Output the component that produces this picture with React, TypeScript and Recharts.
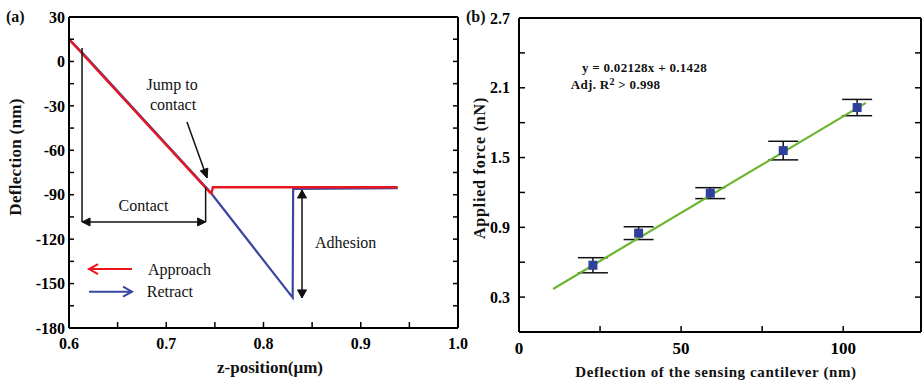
import React from 'react';
import {
  ComposedChart,
  Line,
  XAxis,
  YAxis,
  Scatter,
  ErrorBar,
  ReferenceLine,
  ReferenceDot,
} from 'recharts';

// ---------- Panel (a) data ----------
const approachZ = [0.6, 0.745, 0.7465, 0.748, 0.938];
const approachD = [15, -88.5, -89, -85, -85];
const retractZ = [0.6, 0.615, 0.745, 0.83, 0.8305, 0.938];
const retractD = [15, 5, -88, -159.5, -86, -85.5];

const aXTicks = [0.6, 0.65, 0.7, 0.75, 0.8, 0.85, 0.9, 0.95, 1.0];
const aXLabels = [0.6, 0.7, 0.8, 0.9, 1.0];
const aYTicks = [30, 15, 0, -15, -30, -45, -60, -75, -90, -105, -120, -135, -150, -165, -180];
const aYLabels = [30, 0, -30, -60, -90, -120, -150, -180];

// ---------- Panel (b) data ----------
const deflection = [22.8, 36.9, 59.0, 81.5, 104.3];
const force = [0.574, 0.85, 1.194, 1.56, 1.93];
const forceErr = [0.065, 0.055, 0.047, 0.08, 0.07];
const fitX = [10.5, 107];
const fitY = [0.37, 1.97];

const bXTicks = [0, 25, 50, 75, 100];
const bXLabels = [0, 50, 100];
const bYTicks = [0.3, 0.6, 0.9, 1.2, 1.5, 1.8, 2.1, 2.4, 2.7];
const bYLabels = [0.3, 0.9, 1.5, 2.1, 2.7];

const approachData = approachZ.map((z, i) => ({ z, d: approachD[i] }));
const retractData = retractZ.map((z, i) => ({ z, d: retractD[i] }));
const pointData = deflection.map((x, i) => ({ x, y: force[i], err: forceErr[i] }));
const fitData = fitX.map((x, i) => ({ x, y: fitY[i] }));

const serif = "'Liberation Serif', 'Times New Roman', serif";
const RED = '#e8161f';
const BLUE = '#3a47a0';
const GREEN = '#6cb52f';
const SQUARE = '#2f3f9c';

const tickStyle = { fill: '#000', fontSize: 16, fontWeight: 700, fontFamily: serif };
const tickStyleBX = { fill: '#000', fontSize: 17, fontWeight: 700, fontFamily: serif };
const axisLine = { stroke: '#000', strokeWidth: 2 };
const tickLine = { stroke: '#000', strokeWidth: 1.5 };

const near = (list: number[], v: number) => list.some((l) => Math.abs(l - v) < 1e-6);

// Arrow drawing shape for ReferenceLine segments
const arrowShape =
  (start: boolean, end: boolean, color: string, open: boolean, len = 8, half = 4, width = 1.5) =>
  (props: any) => {
    const { x1, y1, x2, y2 } = props;
    if (x1 == null) return null;
    const dx = x2 - x1;
    const dy = y2 - y1;
    const L = Math.sqrt(dx * dx + dy * dy) || 1;
    const ux = dx / L;
    const uy = dy / L;
    const px = -uy;
    const py = ux;
    const head = (tx: number, ty: number, dir: number, key: string) => {
      const bx = tx - dir * ux * len;
      const by = ty - dir * uy * len;
      const a = `${bx + px * half},${by + py * half}`;
      const b = `${bx - px * half},${by - py * half}`;
      if (open) {
        return (
          <polyline
            key={key}
            points={`${a} ${tx},${ty} ${b}`}
            fill="none"
            stroke={color}
            strokeWidth={width}
          />
        );
      }
      return <polygon key={key} points={`${a} ${tx},${ty} ${b}`} fill={color} stroke={color} />;
    };
    return (
      <g>
        <line x1={x1} y1={y1} x2={x2} y2={y2} stroke={color} strokeWidth={width} />
        {start ? head(x1, y1, -1, 's') : null}
        {end ? head(x2, y2, 1, 'e') : null}
      </g>
    );
  };

const textShape =
  (label: string, anchor: 'start' | 'middle' | 'end', size = 16) =>
  (props: any) => {
    const { cx, cy } = props;
    if (cx == null) return null;
    return (
      <text x={cx} y={cy} textAnchor={anchor} fontFamily={serif} fontSize={size} fill="#111">
        {label}
      </text>
    );
  };

const squareShape = (props: any) => {
  const { cx, cy } = props;
  if (cx == null) return null;
  return <rect x={cx - 4.5} y={cy - 4.5} width={9} height={9} fill={SQUARE} />;
};

const eqShape = (props: any) => {
  const { cx, cy } = props;
  if (cx == null) return null;
  return (
    <text x={cx} y={cy} fontFamily={serif} fontSize={13} fontWeight={700} fill="#111" letterSpacing={0.3}>
      y = 0.02128x + 0.1428
    </text>
  );
};

const r2Shape = (props: any) => {
  const { cx, cy } = props;
  if (cx == null) return null;
  return (
    <text x={cx} y={cy} fontFamily={serif} fontSize={13} fontWeight={700} fill="#111" letterSpacing={0.3}>
      Adj. R
      <tspan dy={-3.5} fontSize={10}>
        2
      </tspan>
      <tspan dy={3.5}>{'  > 0.998'}</tspan>
    </text>
  );
};

function PanelA() {
  return (
    <ComposedChart
      width={475}
      height={382}
      margin={{ left: 68, right: 16, top: 16, bottom: 53 }}
    >
      <XAxis
        dataKey="z"
        type="number"
        domain={[0.6, 1.0]}
        ticks={aXTicks}
        interval={0}
        height={1}
        allowDataOverflow
        axisLine={axisLine}
        tickLine={tickLine}
        tickSize={-6}
        tickMargin={16}
        tick={tickStyle}
        tickFormatter={(v: number) => (near(aXLabels, v) ? v.toFixed(1) : '')}
      />
      <XAxis
        xAxisId="top"
        orientation="top"
        type="number"
        domain={[0.6, 1.0]}
        ticks={aXTicks}
        interval={0}
        height={1}
        allowDataOverflow
        axisLine={axisLine}
        tickLine={tickLine}
        tickSize={-6}
        tickFormatter={() => ''}
      />
      <YAxis
        type="number"
        domain={[-180, 30]}
        ticks={aYTicks}
        interval={0}
        width={1}
        allowDataOverflow
        axisLine={axisLine}
        tickLine={tickLine}
        tickSize={-5}
        tickMargin={9}
        tick={tickStyle}
        tickFormatter={(v: number) => (near(aYLabels, v) ? String(v) : '')}
      />
      <YAxis
        yAxisId="right"
        orientation="right"
        type="number"
        domain={[-180, 30]}
        ticks={aYTicks}
        interval={0}
        width={1}
        allowDataOverflow
        axisLine={axisLine}
        tickLine={tickLine}
        tickSize={-5}
        tickFormatter={() => ''}
      />
      <Line
        data={retractData}
        dataKey="d"
        stroke={BLUE}
        strokeWidth={2.2}
        dot={false}
        isAnimationActive={false}
        type="linear"
      />
      <Line
        data={approachData}
        dataKey="d"
        stroke={RED}
        strokeWidth={2.4}
        dot={false}
        isAnimationActive={false}
        type="linear"
      />
      {/* Contact annotation */}
      <ReferenceLine
        segment={[
          { x: 0.6134, y: 9.1 },
          { x: 0.6134, y: -108.4 },
        ]}
        shape={arrowShape(false, false, '#111', false)}
      />
      <ReferenceLine
        segment={[
          { x: 0.7405, y: -84.8 },
          { x: 0.7405, y: -108.4 },
        ]}
        shape={arrowShape(false, false, '#111', false)}
      />
      <ReferenceLine
        segment={[
          { x: 0.6134, y: -108.4 },
          { x: 0.7405, y: -108.4 },
        ]}
        shape={arrowShape(true, true, '#111', false, 8, 4)}
      />
      {/* Adhesion annotation */}
      <ReferenceLine
        segment={[
          { x: 0.8396, y: -86.8 },
          { x: 0.8396, y: -159.7 },
        ]}
        shape={arrowShape(true, true, '#111', false, 8, 4.5)}
      />
      {/* Jump to contact arrow */}
      <ReferenceLine
        segment={[
          { x: 0.7213, y: -40.9 },
          { x: 0.742, y: -78.7 },
        ]}
        shape={arrowShape(false, true, '#111', false, 9, 4)}
      />
      {/* Legend arrows */}
      <ReferenceLine
        segment={[
          { x: 0.6648, y: -140.2 },
          { x: 0.6206, y: -140.2 },
        ]}
        shape={arrowShape(false, true, RED, true, 9, 5, 2)}
      />
      <ReferenceLine
        segment={[
          { x: 0.6206, y: -155.5 },
          { x: 0.6648, y: -155.5 },
        ]}
        shape={arrowShape(false, true, BLUE, true, 9, 5, 2)}
      />
      <ReferenceDot x={0.706} y={-19.5} shape={textShape('Jump to', 'middle')} />
      <ReferenceDot x={0.707} y={-33} shape={textShape('contact', 'middle')} />
      <ReferenceDot x={0.6766} y={-101} shape={textShape('Contact', 'middle')} />
      <ReferenceDot x={0.8845} y={-126} shape={textShape('Adhesion', 'middle')} />
      <ReferenceDot x={0.6812} y={-144} shape={textShape('Approach', 'start')} />
      <ReferenceDot x={0.68} y={-159} shape={textShape('Retract', 'start')} />
    </ComposedChart>
  );
}

function PanelB() {
  return (
    <ComposedChart
      width={463}
      height={382}
      margin={{ left: 58, right: 1, top: 17, bottom: 49 }}
    >
      <XAxis
        dataKey="x"
        type="number"
        domain={[0, 124]}
        ticks={bXTicks}
        interval={0}
        height={1}
        allowDataOverflow
        axisLine={axisLine}
        tickLine={tickLine}
        tickSize={-6}
        tickMargin={16}
        tick={tickStyleBX}
        tickFormatter={(v: number) => (near(bXLabels, v) ? String(v) : '')}
      />
      <XAxis
        xAxisId="top"
        orientation="top"
        type="number"
        domain={[0, 124]}
        ticks={bXTicks}
        interval={0}
        height={1}
        allowDataOverflow
        axisLine={axisLine}
        tickLine={tickLine}
        tickSize={-6}
        tickFormatter={() => ''}
      />
      <YAxis
        dataKey="y"
        type="number"
        domain={[0, 2.7]}
        ticks={bYTicks}
        interval={0}
        width={1}
        allowDataOverflow
        axisLine={axisLine}
        tickLine={tickLine}
        tickSize={-6}
        tickMargin={15}
        tick={tickStyle}
        tickFormatter={(v: number) => (near(bYLabels, v) ? v.toFixed(1) : '')}
      />
      <YAxis
        yAxisId="right"
        orientation="right"
        type="number"
        domain={[0, 2.7]}
        ticks={bYTicks}
        interval={0}
        width={1}
        allowDataOverflow
        axisLine={axisLine}
        tickLine={tickLine}
        tickSize={-6}
        tickFormatter={() => ''}
      />
      <Scatter data={pointData} dataKey="y" shape={squareShape} isAnimationActive={false}>
        <ErrorBar
          dataKey="err"
          direction="y"
          width={15}
          stroke="#111"
          strokeWidth={1.5}
          isAnimationActive={false}
        />
      </Scatter>
      <Line
        data={fitData}
        dataKey="y"
        stroke={GREEN}
        strokeWidth={2.2}
        dot={false}
        isAnimationActive={false}
        type="linear"
      />
      <ReferenceDot x={19.4} y={2.235} shape={eqShape} />
      <ReferenceDot x={16.0} y={2.09} shape={r2Shape} />
    </ComposedChart>
  );
}

export default function App() {
  return (
    <div
      style={{
        position: 'absolute',
        left: 0,
        top: 0,
        width: 923,
        height: 382,
        background: '#fff',
        overflow: 'hidden',
      }}
    >
      <div style={{ position: 'absolute', left: 0, top: 0 }}>
        <PanelA />
      </div>
      <div style={{ position: 'absolute', left: 460, top: 0 }}>
        <PanelB />
      </div>
      <svg
        width={923}
        height={382}
        style={{ position: 'absolute', left: 0, top: 0, pointerEvents: 'none' }}
      >
        <g fontFamily={serif} fontWeight={700} fill="#111">
          <text x={6} y={22} fontSize={16}>
            (a)
          </text>
          <text x={466} y={22} fontSize={16}>
            (b)
          </text>
          <text
            x={21}
            y={157}
            fontSize={17}
            letterSpacing={0.3}
            textAnchor="middle"
            transform="rotate(-90 21 157)"
          >
            Deflection (nm)
          </text>
          <text x={270} y={373} fontSize={17} textAnchor="middle">
            z-position(μm)
          </text>
          <text
            x={485}
            y={168}
            fontSize={16}
            letterSpacing={0.8}
            textAnchor="middle"
            transform="rotate(-90 485 168)"
          >
            Applied force (nN)
          </text>
          <text x={716} y={377} fontSize={15} letterSpacing={0.6} textAnchor="middle">
            Deflection of the sensing cantilever (nm)
          </text>
        </g>
      </svg>
    </div>
  );
}
